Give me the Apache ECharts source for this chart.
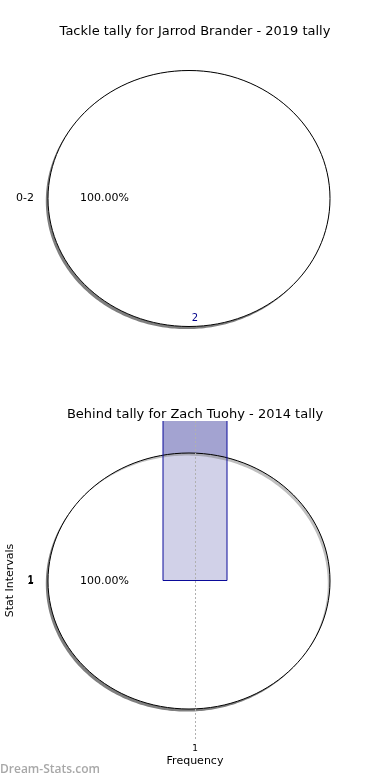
<!DOCTYPE html>
<html><head><meta charset="utf-8">
<script src="https://cdn.jsdelivr.net/npm/echarts@6/dist/echarts.min.js"></script>
<style>html,body{margin:0;padding:0;background:#fff}#c{width:390px;height:780px}</style>
</head><body><div id="c"></div>
<script>
// ---- data ----
const titles = ['Tackle tally for Jarrod Brander - 2019 tally', 'Behind tally for Zach Tuohy - 2014 tally'];
const pie1Categories = ['0-2'];
const pie1Values = [2];
const pie1CountLabels = ['2'];
const pie2Categories = ['1'];
const pie2Values = [1];
const barFrequency = [1];      // x position (Frequency)
const barIntervalStart = [1];  // bar base (Stat Intervals)
const barIntervalEnd = [2];    // bar extends to plot top
const xTickLabels = ['1'];
const yTickLabels = ['1'];
const xAxisName = 'Frequency';
const yAxisName = 'Stat Intervals';
const watermark = 'Dream-Stats.com';

const FONT = 'DejaVu Sans';
const chart = echarts.init(document.getElementById('c'), null, {renderer: 'canvas'});

function ellipsePts(cx, cy, rx, ry, n, reverse) {
  const pts = [];
  for (let k = 0; k <= n; k++) {
    const a = (reverse ? -1 : 1) * 2 * Math.PI * k / n;
    pts.push([cx + rx * Math.cos(a), cy - ry * Math.sin(a)]);
  }
  return pts;
}

function pieSeries(cats, vals, geo, fill, z) {
  const total = vals.reduce((a, b) => a + b, 0);
  let acc = 0;
  const data = vals.map((v, i) => { const s = acc / total; acc += v; return [s, acc / total, v, i]; });
  return {
    type: 'custom', coordinateSystem: 'none', z: z, silent: true, data: data,
    renderItem(params, api) {
      const {cx, cy, rx, ry} = geo;
      const s = api.value(0) * 2 * Math.PI, e = api.value(1) * 2 * Math.PI;
      const mid = (s + e) / 2;
      const v = api.value(2), idx = api.value(3);
      const children = [];
      // shadow crescent (outside the pie only)
      const crescent = ellipsePts(cx - 2.2, cy + 2.6, rx, ry, 360, false).concat(ellipsePts(cx, cy, rx, ry, 360, true));
      children.push({type: 'polygon', shape: {points: crescent}, style: {fill: 'rgba(0,0,0,0.5)'}});
      if (e - s >= 2 * Math.PI - 1e-6) {
        children.push({type: 'ellipse', shape: {cx, cy, rx, ry}, style: {fill: fill, stroke: '#000', lineWidth: 1}});
      } else {
        const pts = [[cx, cy]];
        for (let k = 0; k <= 120; k++) { const a = s + (e - s) * k / 120; pts.push([cx + rx * Math.cos(a), cy - ry * Math.sin(a)]); }
        children.push({type: 'polygon', shape: {points: pts}, style: {fill: fill, stroke: '#000', lineWidth: 1}});
      }
      const lx = cx + 1.1 * rx * Math.cos(mid), ly = cy - 1.1 * ry * Math.sin(mid);
      children.push({type: 'text', x: lx, y: ly, style: {text: cats[idx], font: `11px "${FONT}"`, fill: '#000',
        align: Math.cos(mid) < -0.01 ? 'right' : (Math.cos(mid) > 0.01 ? 'left' : 'center'), verticalAlign: 'middle'}});
      const px = cx + 0.6 * rx * Math.cos(mid), py = cy - 0.6 * ry * Math.sin(mid);
      children.push({type: 'text', x: px, y: py, style: {text: (v / total * 100).toFixed(2) + '%', font: `11px "${FONT}"`, fill: '#000', align: 'center', verticalAlign: 'middle'}});
      return {type: 'group', children};
    }
  };
}

function barGeom(params, api) {
  const cs = params.coordSys;
  const x = api.value(0), y0 = api.value(1), y1 = api.value(2);
  const w = api.size([0.8, 0])[0];
  const pb = api.coord([x, y0]), pt = api.coord([x, y1]);
  return {left: pb[0] - w / 2, right: pb[0] + w / 2, top: Math.max(pt[1], cs.y), bottom: pb[1], w};
}

const pie1Geo = {cx: 189, cy: 198.5, rx: 141, ry: 128};
const pie2Geo = {cx: 189, cy: 581, rx: 141, ry: 128};
const barData = barFrequency.map((f, i) => [f, barIntervalStart[i], barIntervalEnd[i]]);

const option = {
  backgroundColor: '#fff',
  animation: false,
  title: [
    {text: titles[0], left: 'center', top: 20, textStyle: {fontFamily: FONT, fontSize: 13, fontWeight: 'normal', color: '#000'}},
    {text: titles[1], left: 'center', top: 403, textStyle: {fontFamily: FONT, fontSize: 13, fontWeight: 'normal', color: '#000'}}
  ],
  grid: {left: 35, right: 35, top: 421, bottom: 40, outerBoundsMode: 'none', containLabel: false},
  xAxis: {
    type: 'value', min: -1, max: 3, interval: 1, z: 10,
    name: xAxisName, nameLocation: 'middle', nameGap: 16,
    nameTextStyle: {fontFamily: FONT, fontSize: 11, color: '#000'},
    axisLine: {show: false}, axisTick: {show: false},
    axisLabel: {margin: 4, fontFamily: FONT, fontSize: 9, color: '#000',
      formatter: v => xTickLabels.includes(String(v)) ? String(v) : ''},
    splitLine: {show: true, lineStyle: {type: [2, 2], width: 1,
      color: ['rgba(0,0,0,0)', 'rgba(0,0,0,0)', '#b0b0b0', 'rgba(0,0,0,0)', 'rgba(0,0,0,0)']}}
  },
  yAxis: {
    type: 'value', min: 0, max: 2, interval: 1,
    name: yAxisName, nameLocation: 'middle', nameGap: 19,
    nameTextStyle: {fontFamily: FONT, fontSize: 11, color: '#000'},
    axisLine: {show: false}, axisTick: {show: false}, splitLine: {show: false},
    axisLabel: {margin: 1, fontFamily: FONT, fontSize: 10, color: '#000',
      formatter: v => yTickLabels.includes(String(v)) ? String(v) : ''}
  },
  graphic: [
    {type: 'text', left: 0, top: 764, style: {text: watermark, font: '600 12px "Open Sans"', fill: '#a8a8a8'}}
  ],
  series: [
    pieSeries(pie1Categories, pie1Values, pie1Geo, '#fff', 2),
    {
      type: 'custom', z: 2, silent: true, data: barData,
      renderItem(params, api) {
        const g = barGeom(params, api);
        return {type: 'rect', shape: {x: g.left, y: g.top, width: g.w, height: g.bottom - g.top}, style: {fill: 'rgba(0,0,128,0.36)'}};
      }
    },
    pieSeries(pie2Categories, pie2Values, pie2Geo, 'rgba(255,255,255,0.5)', 4),
    {
      type: 'custom', z: 6, silent: true, data: barData,
      renderItem(params, api) {
        const g = barGeom(params, api);
        return {type: 'polyline', shape: {points: [[g.left, g.top], [g.left, g.bottom], [g.right, g.bottom], [g.right, g.top]]},
          style: {stroke: '#0a0a9a', lineWidth: 1, fill: null}};
      }
    },
    {
      type: 'custom', coordinateSystem: 'none', z: 6, silent: true,
      data: pie1CountLabels.map((t, i) => [i]),
      renderItem(params, api) {
        return {type: 'text', x: 195, y: 318, style: {text: pie1CountLabels[api.value(0)], font: `10px "${FONT}"`, fill: '#00008b', align: 'center', verticalAlign: 'middle'}};
      }
    }
  ]
};
chart.setOption(option);
</script>
</body></html>
